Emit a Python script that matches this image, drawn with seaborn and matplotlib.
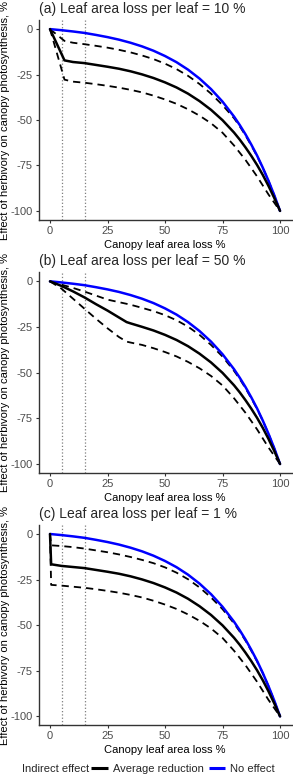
import numpy as np
import matplotlib
matplotlib.use("Agg")
import matplotlib.pyplot as plt
from matplotlib.lines import Line2D
import seaborn as sns

# canopy leaf area loss (%) grid for the "no effect" curve
grid_x = [0, 5, 10, 15, 20, 25, 30, 35, 40, 45, 50, 55, 60, 65, 70, 75,
          80, 82.5, 85, 87.5, 90, 92.5, 95, 97.5, 100]
no_effect = [0, -0.6, -1.3, -2.1, -3.2, -4.4, -5.8, -7.5, -9.5, -11.9, -14.8,
             -18.2, -22.3, -27.2, -33.0, -39.9, -48.1, -52.8, -57.9, -63.5,
             -69.5, -76.2, -83.5, -91.4, -100]

# (a) 10 % per leaf
a_x = [0, 6.3, 10, 15, 20, 25, 30, 35, 40, 45, 50, 55, 60, 65, 70, 75,
       80, 82.5, 85, 87.5, 90, 92.5, 95, 97.5, 100]
a_mean = [0, -17.2, -18.1, -18.7, -19.7, -20.7, -21.8, -23.2, -24.9, -26.9,
          -29.3, -32.1, -35.5, -39.6, -44.4, -50.1, -56.9, -60.8, -65.1,
          -69.7, -74.7, -80.2, -86.3, -92.9, -100]
a_upper = [0, -6.5, -7.5, -8.3, -9.2, -10.2, -11.4, -12.8, -14.5, -16.5, -19,
           -22, -25.7, -30.2, -35.5, -41.8, -49, -53.5, -58.5, -64, -69.8,
           -76.3, -83.5, -91.5, -100]
a_lower = [0, -27.8, -28.9, -29.5, -30.3, -31.2, -32.2, -33.4, -34.8, -36.6,
           -38.7, -41.1, -44.1, -47.6, -51.8, -57, -64, -68, -72, -76.5, -81,
           -86, -91, -95.5, -100]

# (b) 50 % per leaf
b_x = [0, 5, 10, 15, 20, 25, 30, 33.3, 35, 40, 45, 50, 55, 60, 65, 70, 75,
       80, 82.5, 85, 87.5, 90, 92.5, 95, 97.5, 100]
b_mean = [0, -2.5, -5.5, -8.8, -12.5, -16, -19.8, -22.3, -23.0, -24.9, -26.9,
          -29.3, -32.1, -35.5, -39.6, -44.4, -50.1, -56.9, -60.8, -65.1,
          -69.7, -74.7, -80.2, -86.3, -92.9, -100]
b_upper = [0, -1.8, -3.6, -5.6, -7.8, -10.0, -11.4, -12.3, -12.8, -14.5,
           -16.3, -18.5, -21.3, -24.8, -29.3, -34.8, -41.2, -49, -53.5,
           -58.5, -64, -69.8, -76.3, -83.5, -91.5, -100]
b_lower = [0, -4, -9.5, -15, -20.5, -25.7, -30.5, -33, -33.5, -34.8, -36.6,
           -38.7, -41.1, -44.1, -47.6, -51.8, -57, -64, -68, -72, -76.5, -81,
           -86, -91, -95.5, -100]

# (c) 1 % per leaf
c_x = [0, 0.5, 5, 10, 15, 20, 25, 30, 35, 40, 45, 50, 55, 60, 65, 70, 75,
       80, 82.5, 85, 87.5, 90, 92.5, 95, 97.5, 100]
c_mean = [0, -16.6, -17.5, -18.1, -18.7, -19.7, -20.7, -21.8, -23.2, -24.9,
          -26.9, -29.3, -32.1, -35.5, -39.6, -44.4, -50.1, -56.9, -60.8,
          -65.1, -69.7, -74.7, -80.2, -86.3, -92.9, -100]
c_upper = [0, -6.2, -6.6, -7.2, -8, -9, -10, -11.2, -12.6, -14.2, -16, -18.3,
           -21.2, -24.8, -29.3, -34.8, -41.2, -49, -53.5, -58.5, -64, -69.8,
           -76.3, -83.5, -91.5, -100]
c_lower = [0, -27.9, -28.3, -28.9, -29.5, -30.3, -31.2, -32.2, -33.4, -34.8,
           -36.6, -38.7, -41.1, -44.1, -47.6, -51.8, -57, -64, -68, -72,
           -76.5, -81, -86, -91, -95.5, -100]

titles = ["(a) Leaf area loss per leaf = 10 %",
          "(b) Leaf area loss per leaf = 50 %",
          "(c) Leaf area loss per leaf = 1 %"]
panels = [(a_x, a_mean, a_upper, a_lower),
          (b_x, b_mean, b_upper, b_lower),
          (c_x, c_mean, c_upper, c_lower)]
ref_lines = [5, 15]

sns.set_theme(style="ticks")
plt.rcParams["font.family"] = ["Liberation Sans", "DejaVu Sans"]
plt.rcParams["axes.unicode_minus"] = False

fig = plt.figure(figsize=(2.93, 7.76), dpi=100)
# axes boxes in figure fraction (left, bottom, width, height)
boxes = [(0.1314, 0.7165, 0.8636, 0.2577),
         (0.1314, 0.3903, 0.8636, 0.2589),
         (0.1314, 0.0651, 0.8636, 0.2585)]

grey_txt = "#4D4D4D"
dash = (0, (4, 2.8))

for box, title, (px, mean, upper, lower) in zip(boxes, titles, panels):
    ax = fig.add_axes(box)
    for v in ref_lines:
        ax.axvline(v, color="#7f7f7f", ls=":", lw=0.9, zorder=1)
    sns.lineplot(x=px, y=upper, ax=ax, color="black", lw=1.3, linestyle=dash)
    sns.lineplot(x=px, y=lower, ax=ax, color="black", lw=1.3, linestyle=dash)
    sns.lineplot(x=grid_x, y=no_effect, ax=ax, color="#0000FF", lw=1.8)
    sns.lineplot(x=px, y=mean, ax=ax, color="black", lw=1.8)

    ax.set_xlim(-5, 105)
    ax.set_ylim(-105, 5)
    ax.set_xticks([0, 25, 50, 75, 100])
    ax.set_yticks([0, -25, -50, -75, -100])
    ax.tick_params(length=2.5, width=0.8, color="#333333", labelsize=8,
                   labelcolor=grey_txt, pad=1.5)
    for s in ["left", "bottom"]:
        ax.spines[s].set_color("#333333")
        ax.spines[s].set_linewidth(1.0)
    sns.despine(ax=ax)

    ax.set_xlabel("Canopy leaf area loss %", fontsize=8, color="black")
    ax.xaxis.set_label_coords(0.5, -0.098)
    ax.set_ylabel("Effect of herbivory on canopy photosynthesis, %",
                  fontsize=8, color="black")
    ax.yaxis.set_label_coords(-0.113, 0.5)
    ax.set_title(title, loc="left", fontsize=10, pad=5, x=0.0)

fig.text(22 / 293, 1 - 769 / 776, "Indirect effect", fontsize=8,
         va="center", ha="left")
handles = [Line2D([], [], color="black", lw=2.2, solid_capstyle="butt"),
           Line2D([], [], color="#0000FF", lw=2.2, solid_capstyle="butt")]
fig.legend(handles, ["Average reduction", "No effect"], ncol=2,
           loc="center left", bbox_to_anchor=(91 / 293, 1 - 769 / 776),
           frameon=False, fontsize=8, handlelength=1.5, handletextpad=0.45,
           columnspacing=0.45, borderpad=0, borderaxespad=0)

fig.savefig("out.png", dpi=100)
